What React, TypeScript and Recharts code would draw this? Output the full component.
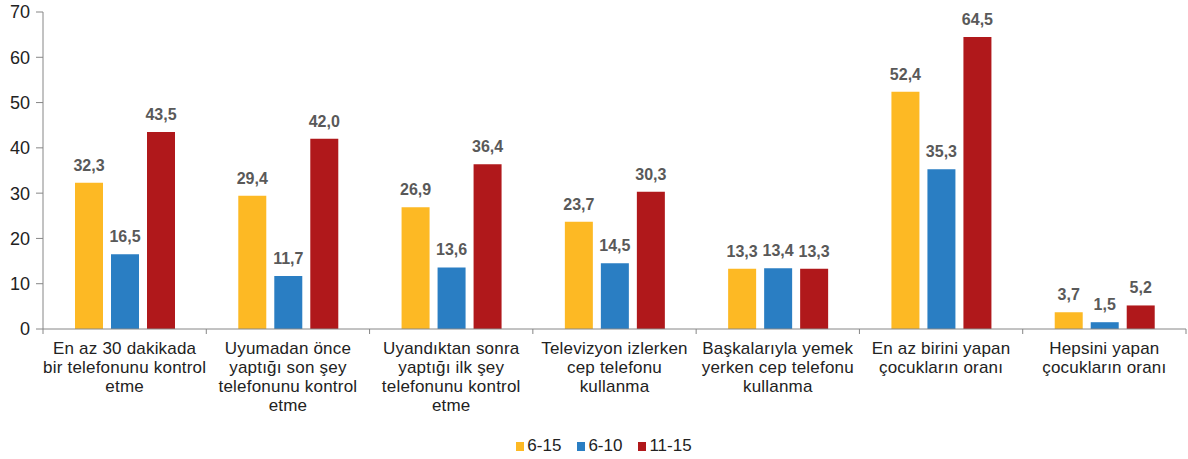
import React from "react";
import { BarChart, Bar, XAxis, YAxis, Legend, LabelList } from "recharts";

const categories = [
  ["En az 30 dakikada", "bir telefonunu kontrol", "etme"],
  ["Uyumadan önce", "yaptığı son şey", "telefonunu kontrol", "etme"],
  ["Uyandıktan sonra", "yaptığı ilk şey", "telefonunu kontrol", "etme"],
  ["Televizyon izlerken", "cep telefonu", "kullanma"],
  ["Başkalarıyla yemek", "yerken cep telefonu", "kullanma"],
  ["En az birini yapan", "çocukların oranı"],
  ["Hepsini yapan", "çocukların oranı"],
];
const age6to15 = [32.3, 29.4, 26.9, 23.7, 13.3, 52.4, 3.7];
const age6to10 = [16.5, 11.7, 13.6, 14.5, 13.4, 35.3, 1.5];
const age11to15 = [43.5, 42.0, 36.4, 30.3, 13.3, 64.5, 5.2];
const yTicks = [0, 10, 20, 30, 40, 50, 60, 70];

const series = [
  { key: "a", name: "6-15", color: "#FDB924" },
  { key: "b", name: "6-10", color: "#2A7EC3" },
  { key: "c", name: "11-15", color: "#B0181B" },
];

const data = categories.map((lines, i) => ({
  name: lines.join(" "),
  a: age6to15[i],
  b: age6to10[i],
  c: age11to15[i],
}));

const W = 1188;
const H = 459;
const margin = { top: 12, right: 2, left: 0, bottom: 1 };
const yAxisWidth = 43;
const band = (W - margin.left - margin.right - yAxisWidth) / categories.length;
const font = "Liberation Sans, Arial, sans-serif";

const fmt = (v: any) => Number(v).toFixed(1).replace(".", ",");

const CatTick = (props: any) => {
  const { x, y, index } = props;
  const lines = categories[index] || [];
  const left = x - band / 2;
  return (
    <g>
      <line x1={left} y1={y - 8} x2={left} y2={y - 3} stroke="#868686" />
      {index === categories.length - 1 && (
        <line x1={left + band} y1={y - 8} x2={left + band} y2={y - 3} stroke="#868686" />
      )}
      <text x={x} y={y + 17} textAnchor="middle" fontSize={17} letterSpacing={0.2} fill="#222" fontFamily={font}>
        {lines.map((l: string, k: number) => (
          <tspan key={k} x={x} dy={k === 0 ? 0 : 19}>{l}</tspan>
        ))}
      </text>
    </g>
  );
};

const LegendBox = () => (
  <div style={{ height: 24, paddingLeft: 22, display: "flex", justifyContent: "center", alignItems: "center", fontFamily: font, fontSize: 17, color: "#222" }}>
    {series.map((s) => (
      <div key={s.key} style={{ display: "flex", alignItems: "center", margin: "0 8px" }}>
        <span style={{ width: 8, height: 9, background: s.color, marginRight: 3, display: "inline-block" }} />
        <span>{s.name}</span>
      </div>
    ))}
  </div>
);

const labelStyle = { fill: "#595959", fontSize: 16, fontWeight: 700, fontFamily: font };

export default function App() {
  return (
    <div style={{ position: "absolute", left: 0, top: 0 }}>
      <BarChart width={W} height={H} data={data} margin={margin} barSize={28} barGap={8}>
        <XAxis
          dataKey="name"
          interval={0}
          tick={<CatTick />}
          tickLine={false}
          axisLine={{ stroke: "#868686" }}
          height={105}
        />
        <YAxis
          domain={[0, 70]}
          ticks={yTicks}
          width={yAxisWidth}
          tick={{ fill: "#222", fontSize: 18, fontFamily: font }}
          tickSize={7}
          tickMargin={6}
          tickLine={{ stroke: "#868686" }}
          axisLine={{ stroke: "#868686" }}
        />
        <Legend verticalAlign="bottom" content={<LegendBox />} />
        {series.map((s) => (
          <Bar key={s.key} dataKey={s.key} name={s.name} fill={s.color} isAnimationActive={false}>
            <LabelList dataKey={s.key} position="top" offset={12} formatter={fmt} style={labelStyle} />
          </Bar>
        ))}
      </BarChart>
    </div>
  );
}
